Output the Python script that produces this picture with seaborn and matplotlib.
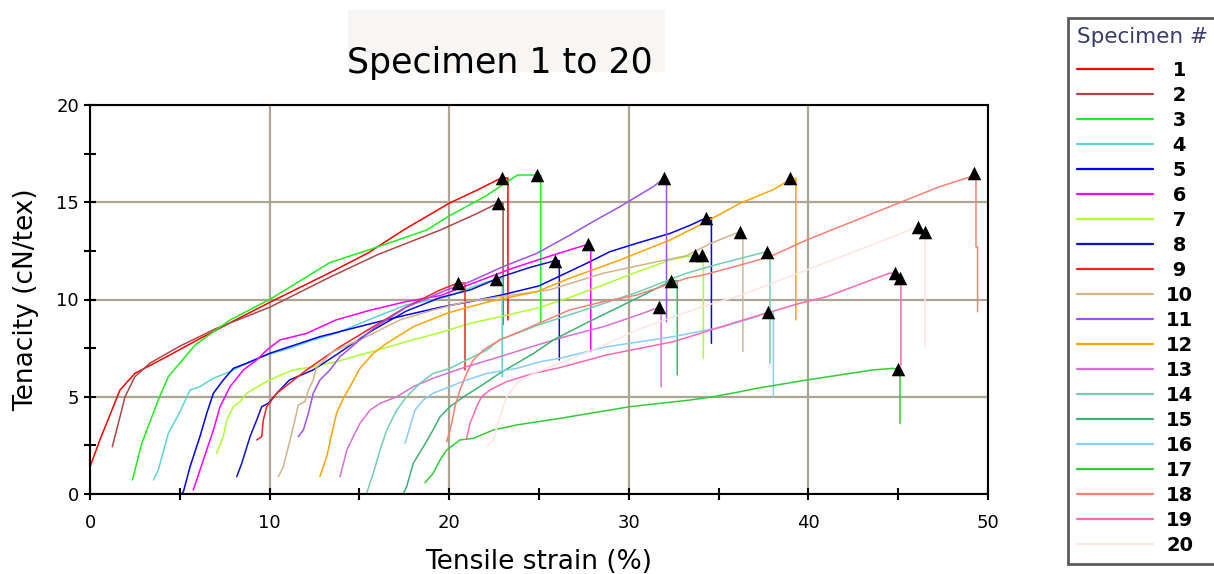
import pandas as pd
import matplotlib
matplotlib.use("Agg")
import matplotlib.pyplot as plt
from matplotlib.patches import Rectangle
from matplotlib.ticker import MultipleLocator
import seaborn as sns

# strain (%) / tenacity (cN/tex) per specimen; the last point is the end of the break drop
strain_1 = [0, 0.56, 1.3, 1.67, 2.5, 4.27, 5.94, 8, 10, 13.4, 15.5, 17.45, 20, 21.5, 22.9, 23.27, 23.27]
tenacity_1 = [1.4, 2.8, 4.5, 5.35, 6.2, 7.06, 7.9, 8.9, 9.85, 11.4, 12.4, 13.57, 14.95, 15.6, 16.25, 16.25, 8.95]
strain_2 = [1.24, 1.67, 1.95, 2.5, 3.34, 5, 7, 10, 13.36, 16, 19.5, 21.5, 22.7, 23.0, 23.0]
tenacity_2 = [2.43, 3.97, 5.0, 6.03, 6.73, 7.6, 8.5, 9.6, 11.15, 12.3, 13.57, 14.4, 14.95, 14.95, 8.7]
strain_3 = [2.36, 2.88, 3.8, 4.36, 5.85, 7.8, 10, 13.36, 16, 18.74, 20, 22, 23.8, 24.87, 25.1, 25.1]
tenacity_3 = [0.72, 2.6, 4.83, 6.03, 7.66, 8.95, 10.0, 11.9, 12.7, 13.57, 14.3, 15.3, 16.4, 16.4, 16.4, 8.86]
strain_4 = [3.53, 3.8, 4.36, 5.01, 5.57, 6.12, 6.87, 7.8, 8.72, 9.84, 11.1, 12.43, 13.7, 15.5, 17.6, 19.86, 21.5, 22.6, 22.95, 22.95]
tenacity_4 = [0.72, 1.23, 3.12, 4.23, 5.35, 5.52, 5.95, 6.29, 6.72, 7.15, 7.49, 7.92, 8.26, 8.95, 9.72, 10.14, 10.7, 11.05, 11.05, 6.03]
strain_5 = [5.1, 5.2, 5.57, 6.12, 6.5, 6.87, 7.42, 7.98, 8.72, 10.0, 11.1, 12.8, 13.7, 15.6, 17.6, 19.5, 21.2, 23.0, 25.0, 27.65, 28.95, 30.44, 32.3, 33.5, 34.3, 34.6, 34.6]
tenacity_5 = [0.0, 0.12, 1.4, 2.95, 4.15, 5.18, 5.86, 6.46, 6.72, 7.23, 7.57, 8.09, 8.3, 8.75, 9.2, 9.6, 9.9, 10.25, 10.7, 11.86, 12.46, 12.89, 13.4, 13.85, 14.2, 14.2, 7.75]
strain_6 = [5.75, 6.31, 6.87, 7.24, 7.8, 8.54, 9.28, 9.84, 10.58, 12.06, 13.7, 15.6, 17.6, 19.5, 21.5, 23.5, 25.5, 27.75, 27.88, 27.88]
tenacity_6 = [0.2, 1.75, 3.29, 4.49, 5.52, 6.38, 6.89, 7.4, 7.92, 8.26, 8.95, 9.45, 9.89, 10.2, 10.9, 11.6, 12.2, 12.85, 12.85, 7.32]
strain_7 = [7.05, 7.42, 7.61, 7.98, 8.35, 8.72, 9.65, 10.4, 11.32, 12.43, 13.7, 15.8, 17.6, 19.5, 21.2, 23, 24.87, 26.7, 28.58, 30.4, 32.3, 33.7, 34.15, 34.15]
tenacity_7 = [2.09, 2.95, 3.8, 4.49, 4.75, 5.18, 5.69, 6.03, 6.38, 6.55, 6.8, 7.35, 7.83, 8.3, 8.78, 9.15, 9.55, 10.1, 10.75, 11.4, 12.03, 12.29, 12.29, 6.98]
strain_8 = [8.17, 8.45, 8.91, 9.28, 9.56, 9.93, 10.4, 11.1, 12.43, 13.7, 15.7, 17.6, 19.5, 21.2, 23.0, 24.5, 25.9, 26.13, 26.13]
tenacity_8 = [0.89, 1.58, 2.95, 3.8, 4.49, 4.66, 5.18, 5.86, 6.38, 7.15, 8.4, 9.4, 10.1, 10.5, 11.2, 11.65, 12.0, 12.0, 6.89]
strain_9 = [9.28, 9.56, 9.65, 9.84, 10.4, 12.06, 13.92, 15.77, 17.63, 19.5, 20.5, 20.88, 20.88]
tenacity_9 = [2.78, 2.95, 3.8, 4.49, 5.18, 6.38, 7.57, 8.6, 9.63, 10.49, 10.85, 10.85, 6.38]
strain_10 = [10.49, 10.76, 11.14, 11.41, 11.6, 11.97, 12.16, 12.43, 12.6, 13.5, 15.4, 17.26, 19.1, 20.97, 22.8, 25.6, 28.58, 31.55, 33.2, 34.6, 36.2, 36.35, 36.35]
tenacity_10 = [0.89, 1.4, 2.78, 3.8, 4.58, 4.75, 5.35, 5.86, 6.5, 7.3, 8.09, 8.95, 9.46, 9.89, 10.14, 10.5, 11.35, 11.94, 12.25, 12.9, 13.49, 13.49, 7.32]
strain_11 = [11.6, 11.88, 12.16, 12.43, 12.8, 13.36, 13.92, 15.77, 17.6, 19.86, 21.16, 23.0, 24.87, 26.7, 28.0, 29.5, 31.36, 31.96, 32.1, 32.1]
tenacity_11 = [2.95, 3.29, 4.15, 5.18, 5.86, 6.38, 7.06, 8.5, 9.6, 10.49, 10.92, 11.69, 12.37, 13.3, 14.0, 14.77, 15.8, 16.23, 16.23, 8.86]
strain_12 = [12.8, 13.18, 13.55, 13.73, 14.1, 14.48, 15.03, 15.77, 16.52, 18.0, 19.86, 21.16, 22.5, 24.87, 26.7, 29.5, 32.3, 34.15, 36.2, 38.0, 38.8, 39.0, 39.3, 39.3]
tenacity_12 = [0.89, 1.92, 3.46, 4.15, 4.92, 5.52, 6.46, 7.23, 7.75, 8.6, 9.29, 9.63, 9.95, 10.4, 11.09, 12.03, 13.06, 13.92, 14.95, 15.63, 16.06, 16.23, 16.23, 8.95]
strain_13 = [13.92, 14.3, 14.66, 15.03, 15.6, 16.15, 17.08, 18.0, 19.1, 20.97, 22.83, 24.68, 26.5, 28.58, 30.5, 31.7, 31.8, 31.8]
tenacity_13 = [0.89, 2.26, 2.95, 3.63, 4.32, 4.66, 5.0, 5.52, 5.95, 6.55, 7.06, 7.6, 8.1, 8.6, 9.2, 9.6, 9.6, 5.52]
strain_14 = [15.4, 15.77, 16.15, 16.52, 17.08, 17.63, 18.37, 19.1, 20.04, 20.97, 22.1, 22.8, 25.0, 27.65, 30.4, 33.2, 35.1, 37.3, 37.68, 37.86, 37.86]
tenacity_14 = [0.03, 1.06, 2.26, 3.29, 4.32, 5.0, 5.69, 6.2, 6.46, 6.89, 7.4, 7.92, 8.7, 9.5, 10.35, 11.35, 11.85, 12.37, 12.46, 12.46, 6.72]
strain_15 = [17.45, 17.63, 18.0, 18.56, 19.1, 19.49, 20.04, 20.8, 21.7, 22.8, 24.7, 25.8, 27.65, 30.44, 32.1, 32.35, 32.7, 32.7]
tenacity_15 = [0.03, 0.38, 1.58, 2.43, 3.29, 3.97, 4.49, 5.0, 5.52, 6.2, 7.23, 7.92, 8.8, 10.06, 10.83, 10.97, 10.97, 6.12]
strain_16 = [17.54, 17.82, 18.1, 18.56, 19.1, 20.04, 20.97, 22.1, 23.76, 25.06, 26.17, 28.77, 32.48, 35.26, 37.1, 37.77, 38.05, 38.05]
tenacity_16 = [2.6, 3.46, 4.32, 4.83, 5.18, 5.52, 5.86, 6.2, 6.46, 6.8, 6.98, 7.57, 8.09, 8.6, 9.11, 9.37, 9.37, 5.0]
strain_17 = [18.65, 19.1, 19.49, 19.86, 20.6, 21.34, 22.45, 23.76, 26.17, 30.07, 33.4, 34.7, 36.2, 37.1, 39.9, 43.6, 44.7, 44.97, 45.1, 45.1]
tenacity_17 = [0.58, 1.06, 1.75, 2.26, 2.78, 2.86, 3.29, 3.55, 3.89, 4.49, 4.83, 5.0, 5.26, 5.43, 5.86, 6.38, 6.46, 6.41, 6.41, 3.63]
strain_18 = [19.86, 20.14, 20.32, 20.6, 20.97, 21.34, 21.9, 22.8, 23.94, 26.7, 28.58, 30.44, 33.2, 34.15, 36.2, 37.86, 39.9, 43.6, 47.3, 49.0, 49.24, 49.33, 49.33, 49.42, 49.42]
tenacity_18 = [2.69, 3.63, 4.49, 5.35, 6.2, 6.89, 7.4, 7.92, 8.35, 9.46, 9.89, 10.23, 11.09, 11.26, 11.77, 12.2, 13.06, 14.43, 15.8, 16.3, 16.49, 16.49, 12.7, 12.7, 9.37]
strain_19 = [20.97, 21.16, 21.53, 21.8, 22.27, 23.2, 24.68, 26.17, 28.77, 32.48, 36.2, 39.5, 41.0, 44.5, 44.8, 45.1, 45.15, 45.15]
tenacity_19 = [2.86, 3.63, 4.49, 5.0, 5.35, 5.78, 6.2, 6.5, 7.15, 7.83, 8.9, 9.8, 10.14, 11.35, 11.35, 11.09, 11.09, 6.63]
strain_20 = [22.1, 22.45, 22.83, 23.2, 23.76, 24.68, 26.17, 28.5, 30.44, 32.48, 34.15, 36.2, 39.9, 44.5, 45.85, 46.1, 46.5, 46.5]
tenacity_20 = [2.43, 2.78, 3.97, 5.0, 5.69, 6.2, 6.72, 7.6, 8.43, 9.1, 9.65, 10.2, 11.52, 13.15, 13.66, 13.74, 13.49, 7.57]

# break markers (black triangles)
break_strain = [22.94, 22.7, 24.87, 22.6, 34.3, 27.75, 33.69, 34.1, 25.9, 20.5, 36.2, 31.96, 39.0,
                31.7, 37.68, 32.35, 37.77, 44.97, 49.24, 44.8, 45.1, 46.1, 46.5]
break_tenacity = [16.25, 14.95, 16.4, 11.05, 14.2, 12.85, 12.29, 12.29, 12.0, 10.85, 13.49, 16.23, 16.23,
                  9.6, 12.46, 10.97, 9.37, 6.41, 16.49, 11.35, 11.09, 13.74, 13.49]

specimens = [str(i) for i in range(1, 21)]
colors = ['#ff0000', '#b24646', '#1fef1f', '#5fd3d3', '#0000ff', '#ff00ff', '#adff2f', '#1010d0',
          '#ff2020', '#d2b48c', '#a050f0', '#ffa500', '#da70d6', '#70d0b0', '#3cb371', '#87cefa',
          '#32cd32', '#fa8072', '#ff69b4', '#ffe4e1']

curves = [(strain_1, tenacity_1), (strain_2, tenacity_2), (strain_3, tenacity_3), (strain_4, tenacity_4),
          (strain_5, tenacity_5), (strain_6, tenacity_6), (strain_7, tenacity_7), (strain_8, tenacity_8),
          (strain_9, tenacity_9), (strain_10, tenacity_10), (strain_11, tenacity_11), (strain_12, tenacity_12),
          (strain_13, tenacity_13), (strain_14, tenacity_14), (strain_15, tenacity_15), (strain_16, tenacity_16),
          (strain_17, tenacity_17), (strain_18, tenacity_18), (strain_19, tenacity_19), (strain_20, tenacity_20)]

rows = []
for spec, (xs, ys) in zip(specimens, curves):
    for x, y in zip(xs, ys):
        rows.append({'specimen': spec, 'strain': x, 'tenacity': y})
df = pd.DataFrame(rows)

sns.set_theme(style='white')
plt.rcParams['font.family'] = ['DejaVu Sans']
plt.rcParams['text.color'] = 'black'
plt.rcParams['axes.labelcolor'] = 'black'

fig = plt.figure(figsize=(12.14, 5.74), dpi=100)
ax = fig.add_axes([90 / 1214, 1 - 494 / 574, 898 / 1214, 389 / 574])

sns.lineplot(data=df, x='strain', y='tenacity', hue='specimen', hue_order=specimens,
             palette=colors, estimator=None, sort=False, linewidth=1.1, ax=ax)
sns.scatterplot(x=break_strain, y=break_tenacity, marker='^', color='black', s=95,
                linewidth=0, zorder=5, ax=ax, legend=False)

ax.set_xlim(0, 50)
ax.set_ylim(0, 20)
ax.xaxis.set_major_locator(MultipleLocator(10))
ax.xaxis.set_minor_locator(MultipleLocator(5))
ax.yaxis.set_major_locator(MultipleLocator(5))
ax.yaxis.set_minor_locator(MultipleLocator(2.5))
ax.grid(True, which='major', color='#aca594', linewidth=1.6)
ax.set_axisbelow(True)
for sp in ax.spines.values():
    sp.set_color('black')
    sp.set_linewidth(1.5)
ax.tick_params(which='both', direction='inout', length=9, width=1.5, colors='black',
               labelsize=13, left=True, bottom=True)
ax.tick_params(axis='x', pad=10)
ax.set_xlabel('Tensile strain (%)', fontsize=19, labelpad=12)
ax.set_ylabel('Tenacity (cN/tex)', fontsize=19, labelpad=12)

# title with its faint background box
fig.patches.append(Rectangle((348 / 1214, 1 - 72 / 574), 317 / 1214, 62 / 574,
                             transform=fig.transFigure, facecolor='#f7f6f4', edgecolor='none'))
fig.text(500 / 1214, 1 - 63 / 574, 'Specimen 1 to 20', ha='center', va='center', fontsize=25)

handles, labels = ax.get_legend_handles_labels()
ax.get_legend().remove()
for h in handles:
    h.set_linewidth(1.6)
labels = [(' ' + l) if len(l) == 1 else l for l in labels]
leg = fig.legend(handles, labels, loc='upper left', bbox_to_anchor=(1068 / 1214, 1 - 18 / 574),
                 bbox_transform=fig.transFigure, title='Specimen #', alignment='left',
                 prop={'weight': 'bold', 'size': 14}, title_fontproperties={'size': 15.5},
                 handlelength=3.9, handletextpad=0.7, labelspacing=0.31, borderpad=0.45,
                 borderaxespad=0, frameon=True, fancybox=False)
leg._legend_box.sep = 10  # gap between the legend title and the entries
leg.get_frame().set_edgecolor('#333333')
leg.get_frame().set_linewidth(2)
leg.get_title().set_color('#3b3b6b')

fig.savefig('out.png', dpi=100)
